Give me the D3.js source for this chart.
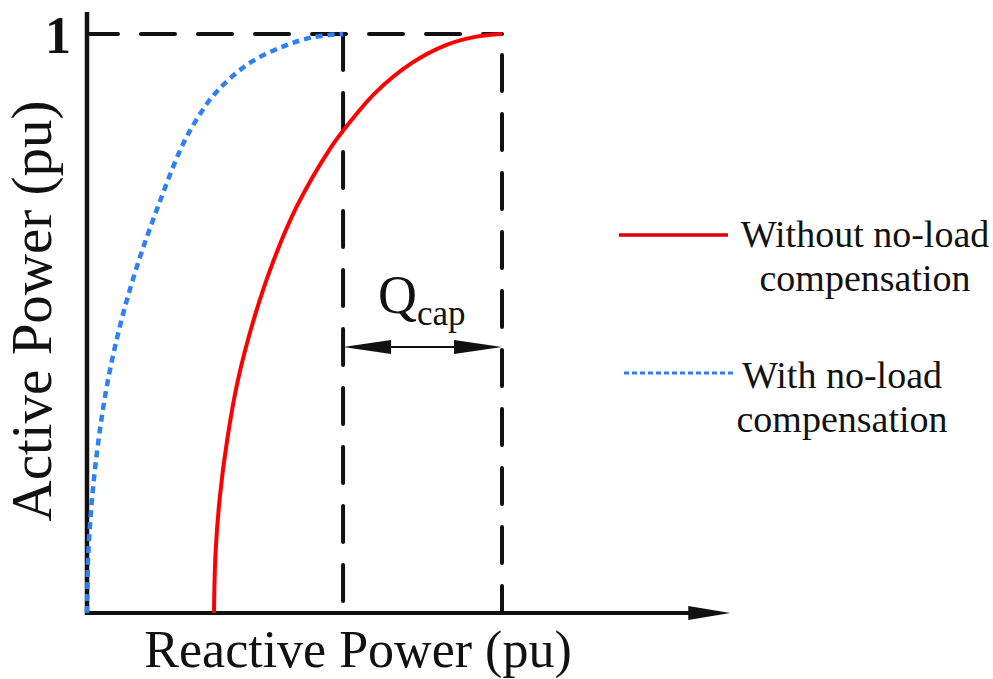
<!DOCTYPE html>
<html>
<head>
<meta charset="utf-8">
<script src="https://cdn.jsdelivr.net/npm/d3@7"></script>
<style>
  body { margin: 0; background: #fff; }
  svg { display: block; }
  svg text { font-family: "Liberation Serif", "Times New Roman", serif; }
</style>
</head>
<body>
<figure id="pq" style="margin:0"></figure>
<script>
// capability curves, [reactive power, active power] in pu
var withoutComp = [
  [0.306, 0], [0.3095, 0.10], [0.320, 0.20], [0.338, 0.30], [0.363, 0.40],
  [0.399, 0.50], [0.445, 0.60], [0.504, 0.70], [0.584, 0.80], [0.636, 0.85],
  [0.697, 0.90], [0.783, 0.95], [0.862, 0.98], [0.935, 0.995], [1.0, 1.0]
];
var withComp = [
  [0, 0], [0.003, 0.10], [0.0125, 0.20], [0.028, 0.30], [0.050, 0.40],
  [0.081, 0.50], [0.121, 0.60], [0.170, 0.70], [0.225, 0.80], [0.262, 0.85],
  [0.312, 0.90], [0.392, 0.95], [0.478, 0.98], [0.548, 0.995], [0.617, 1.0]
];
var yTicks = [1];
var legendLabels = [["Without no-load", "compensation"], ["With no-load", "compensation"]];
var qMax = 1.55, pMax = 1.038;

var width = 993, height = 679;
var serif = "Liberation Serif, Times New Roman, serif";

var svg = d3.select("figure#pq")
  .append("svg")
  .attr("width", width)
  .attr("height", height);

var x = d3.scaleLinear().domain([0, 1]).range([87, 502]);
var y = d3.scaleLinear().domain([0, 1]).range([613, 34]);

var qCap0 = withComp[withComp.length - 1][0];
var qCap1 = withoutComp[withoutComp.length - 1][0];

// dashed guide lines
var guide = svg.append("g")
  .attr("stroke", "#111")
  .attr("stroke-width", 4)
  .attr("stroke-linecap", "round")
  .attr("fill", "none");

guide.append("line")
  .attr("x1", x(0)).attr("y1", y(1)).attr("x2", x(qCap1)).attr("y2", y(1))
  .attr("stroke-dasharray", "34,23")
  .attr("stroke-dashoffset", 3);
guide.append("line")
  .attr("x1", x(qCap0)).attr("y1", y(1)).attr("x2", x(qCap0)).attr("y2", y(0))
  .attr("stroke-dasharray", "36,23");
guide.append("line")
  .attr("x1", x(qCap1)).attr("y1", y(1)).attr("x2", x(qCap1)).attr("y2", y(0))
  .attr("stroke-dasharray", "36,23")
  .attr("stroke-dashoffset", 38);

// axes
svg.append("line")
  .attr("x1", x(0)).attr("y1", y(0) + 2).attr("x2", x(0)).attr("y2", y(pMax))
  .attr("stroke", "#111").attr("stroke-width", 4.5);
svg.append("line")
  .attr("x1", x(0) - 2).attr("y1", y(0)).attr("x2", x(qMax) - 20).attr("y2", y(0))
  .attr("stroke", "#111").attr("stroke-width", 4);
svg.append("path")
  .attr("d", "M" + (x(qMax) - 42) + "," + (y(0) - 7) + "L" + x(qMax) + "," + y(0) +
             "L" + (x(qMax) - 42) + "," + (y(0) + 7) + "Z")
  .attr("fill", "#111");

var yAxis = svg.append("g")
  .attr("transform", "translate(" + x(0) + ",0)")
  .call(d3.axisLeft(y).tickValues(yTicks).tickSize(0).tickPadding(16).tickFormat(d3.format("d")));
yAxis.select(".domain").remove();
yAxis.selectAll("text")
  .attr("font-family", serif)
  .attr("font-size", 52)
  .attr("font-weight", "bold")
  .attr("fill", "#111")
  .attr("dy", "0.36em");

// curves
var line = d3.line()
  .curve(d3.curveCatmullRom.alpha(0.5))
  .x(function(d) { return x(d[0]); })
  .y(function(d) { return y(d[1]); });

svg.append("path")
  .datum(withComp)
  .attr("fill", "none")
  .attr("stroke", "#2f7ff5")
  .attr("stroke-width", 4.5)
  .attr("stroke-dasharray", "7,5")
  .attr("d", line);

svg.append("path")
  .datum(withoutComp)
  .attr("fill", "none")
  .attr("stroke", "#ff0000")
  .attr("stroke-width", 4)
  .attr("d", line);

// Qcap annotation
var arrowY = 347;
svg.append("line")
  .attr("x1", x(qCap0) + 40).attr("y1", arrowY).attr("x2", x(qCap1) - 40).attr("y2", arrowY)
  .attr("stroke", "#111").attr("stroke-width", 2);
svg.append("path")
  .attr("d", "M" + x(qCap0) + "," + arrowY + "L" + (x(qCap0) + 48) + "," + (arrowY - 7) +
             "L" + (x(qCap0) + 48) + "," + (arrowY + 7) + "Z")
  .attr("fill", "#111");
svg.append("path")
  .attr("d", "M" + x(qCap1) + "," + arrowY + "L" + (x(qCap1) - 48) + "," + (arrowY - 7) +
             "L" + (x(qCap1) - 48) + "," + (arrowY + 7) + "Z")
  .attr("fill", "#111");
var qlab = svg.append("text")
  .attr("x", 378).attr("y", 313)
  .attr("font-family", serif)
  .attr("fill", "#111")
  .attr("font-size", 54);
qlab.append("tspan").text("Q");
qlab.append("tspan").attr("font-size", 35).attr("dy", 12).text("cap");

// axis titles
svg.append("text")
  .attr("x", 358).attr("y", 667)
  .attr("text-anchor", "middle")
  .attr("font-family", serif)
  .attr("font-size", 52)
  .attr("fill", "#111")
  .text("Reactive Power (pu)");
svg.append("text")
  .attr("transform", "translate(51,311) rotate(-90)")
  .attr("text-anchor", "middle")
  .attr("font-family", serif)
  .attr("font-size", 57)
  .attr("fill", "#111")
  .text("Active Power (pu)");

// legend
svg.append("line")
  .attr("x1", 619).attr("y1", 235).attr("x2", 728).attr("y2", 235)
  .attr("stroke", "#e00000").attr("stroke-width", 3.5);
svg.append("line")
  .attr("x1", 624).attr("y1", 373).attr("x2", 733).attr("y2", 373)
  .attr("stroke", "#2f7ff5").attr("stroke-width", 3)
  .attr("stroke-dasharray", "5,3");

var leg = [{ cx: 865, y: 247 }, { cx: 842, y: 388 }];
legendLabels.forEach(function(lines, i) {
  lines.forEach(function(t, j) {
    svg.append("text")
      .attr("x", leg[i].cx).attr("y", leg[i].y + j * 44)
      .attr("text-anchor", "middle")
      .attr("font-family", serif)
      .attr("font-size", 38)
      .attr("fill", "#111")
      .text(t);
  });
});
</script>
</body>
</html>
